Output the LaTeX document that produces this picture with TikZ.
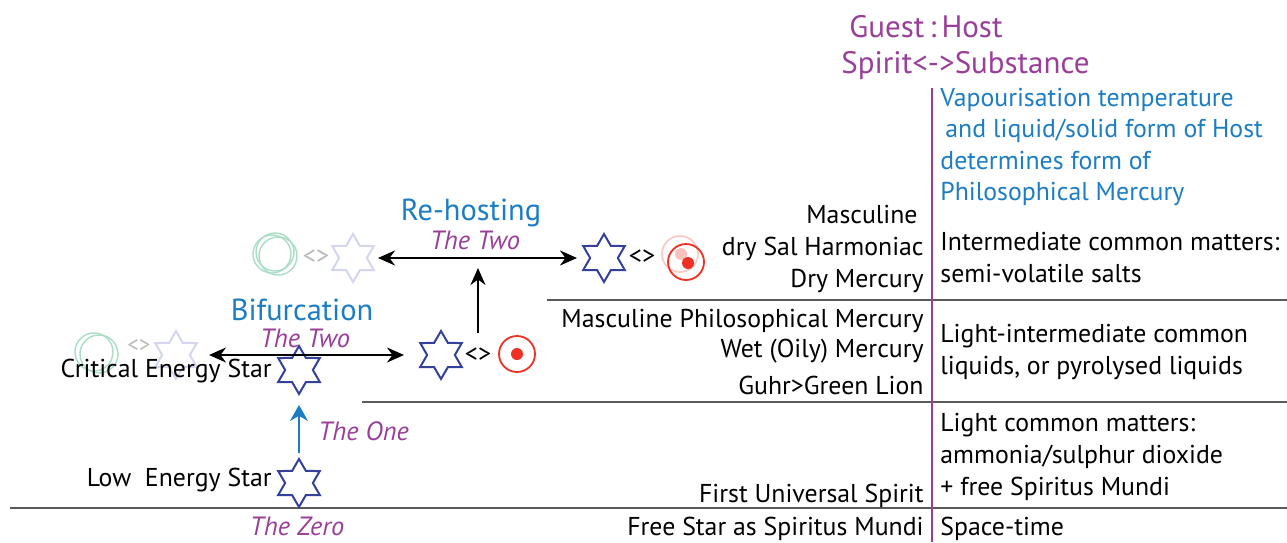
\documentclass[tikz,border=0pt]{standalone}
\usepackage{fontspec}
\setmainfont{PT Sans}
\usetikzlibrary{arrows.meta,positioning,shapes.geometric}
\definecolor{hostpurple}{HTML}{9A3F98}
\definecolor{hostblue}{HTML}{1C7DC4}
\definecolor{starblue}{HTML}{34419B}
\definecolor{hostred}{HTML}{EE3124}
\definecolor{ghostgreen}{HTML}{A9DEC4}
\definecolor{ghoststar}{HTML}{D3D6EE}
\definecolor{rulegray}{HTML}{5A5A5A}

\begin{document}
\begin{tikzpicture}[x=0.5pt,y=-0.5pt,
  txt/.style={font=\fontsize{12.9}{14}\selectfont,inner sep=0pt},
  lab/.style={txt,anchor=base east},
  note/.style={txt,anchor=base west},
  head/.style={inner sep=0pt,anchor=base,font=\fontsize{15.2}{16}\selectfont,hostblue},
  stage/.style={inner sep=0pt,anchor=base,font=\fontsize{13.2}{14}\selectfont\itshape,hostpurple},
  title/.style={inner sep=0pt,anchor=base west,font=\fontsize{15.5}{16}\selectfont,hostpurple},
  hexstar/.style={draw=starblue,line width=1pt,shape=star,star points=6,star point ratio=1.73,minimum size=24pt,inner sep=0pt},
  ghost/.style={hexstar,draw=ghoststar},
  ghostring/.style={draw=ghostgreen,line width=0.7pt,circle,minimum size=19pt,inner sep=0pt},
  swap/.style={inner sep=0pt,font=\fontsize{13}{14}\selectfont},
  target/.style={draw=hostred,line width=0.9pt,circle,minimum size=18pt,inner sep=0pt},
  dot/.style={fill=hostred,circle,minimum size=6pt,inner sep=0pt},
  rule/.style={rulegray,line width=0.8pt},
  twoarrow/.style={line width=1.1pt,{Stealth[length=8.5pt,width=7.5pt]}-{Stealth[length=8.5pt,width=7.5pt]}},
  uparrow/.style={line width=1.1pt,-{Stealth[length=8.5pt,width=7.5pt]}},
  onearrow/.style={hostblue,line width=1.1pt,-{Stealth[length=8pt,width=9pt]}}]

  \useasboundingbox (0,0) rectangle (1287,542);

  \draw[rule] (547,300) -- (1287,300);
  \draw[rule] (362,402) -- (1287,402);
  \draw[rule] (10,508) -- (1287,508);
  \draw[hostpurple,line width=0.8pt] (932,88) -- (932,542);

  \node[title] (guest) at (849,37) {Guest\,:\,Host};
  \node[title] (spirit) at (841,73) {Spirit<->Substance};

  \node[note,hostblue] (vap1) at (940,106) {Vapourisation temperature};
  \node[note,hostblue] (vap2) at (945,137) {and liquid/solid form of Host};
  \node[note,hostblue] (vap3) at (940,169) {determines form of};
  \node[note,hostblue] (vap4) at (940,200) {Philosophical Mercury};
  \node[note] (inter1) at (940,250) {Intermediate common matters:};
  \node[note] (inter2) at (940,282) {semi-volatile salts};
  \node[note] (light1) at (940,342) {Light-intermediate common};
  \node[note] (light2) at (940,374) {liquids, or pyrolysed liquids};
  \node[note] (common1) at (940,431) {Light common matters:};
  \node[note] (common2) at (940,463) {ammonia/sulphur dioxide};
  \node[note] (common3) at (940,495) {+ free Spiritus Mundi};
  \node[note] (space) at (940,535) {Space-time};

  \node[lab] (masc) at (918,223) {Masculine};
  \node[lab] (salh) at (924,255) {dry Sal Harmoniac};
  \node[lab] (drym) at (924,287) {Dry Mercury};
  \node[lab] (mphm) at (924,327) {Masculine Philosophical Mercury};
  \node[lab] (wetm) at (924,357) {Wet (Oily) Mercury};
  \node[lab] (guhr) at (924,394) {Guhr>Green Lion};
  \node[lab] (first) at (924,502) {First Universal Spirit};
  \node[lab] (free) at (924,535) {Free Star as Spiritus Mundi};

  \node[ghostring] (ring1) at (272,254) {};
  \node[ghostring] (ring1b) at (278,256) {};
  \node[ghostring] (ring1c) at (275,252) {};
  \node[swap,gray!55] (ghostswap1) at (316,257) {<>};
  \node[ghost] (ghoststar1) at (353,258) {};

  \node[ghostring] (ring2) at (94,352) {};
  \node[ghostring] (ring2b) at (99,354) {};
  \node[swap,gray!55,font=\fontsize{11.5}{12}\selectfont] (ghostswap2) at (139,346) {<>};
  \node[ghost] (ghoststar2) at (176,355) {};

  \node[lab] (crit) at (272,377) {Critical Energy Star};
  \node[lab] (low) at (272,486) {Low\ \ Energy Star};

  \node[hexstar] (lowstar) at (299,483) {};
  \node[hexstar] (critstar) at (299,370) {};
  \node[hexstar] (midstar) at (441,355) {};
  \node[swap] (midswap) at (478,355) {<>};
  \node[target] (midhost) at (517,354) {};
  \node[dot] (middot) at (517,354) {};

  \node[hexstar] (topstar) at (604,258) {};
  \node[swap] (topswap) at (642,257) {<>};
  \node[target,draw=hostred!25] (ghosthost) at (680,254) {};
  \node[dot,fill=hostred!30] (ghostdot) at (681,254) {};
  \node[target] (tophost) at (686,262) {};
  \node[dot] (topdot) at (688,263) {};

  \coordinate (fork) at (478,257);

  \draw[onearrow,shorten <=2pt,shorten >=4.5pt] (lowstar) -- (critstar);
  \draw[twoarrow,shorten <=9pt,shorten >=11pt] (ghoststar2) -- (midstar);
  \draw[twoarrow,shorten <=5pt,shorten >=6pt] (ghoststar1) -- (topstar);
  \draw[uparrow,shorten <=7pt,shorten >=5.5pt] (midswap.north) -- (fork);

  \node[head] (rehost) at (471,220) {Re-hosting};
  \node[stage] (two1) at (475,249) {The Two};
  \node[head] (bifurc) at (302,320) {Bifurcation};
  \node[stage] (two2) at (305,347) {The Two};
  \node[stage,anchor=base west] (one) at (318,440) {The One};
  \node[stage] (zero) at (297,535) {The Zero};
\end{tikzpicture}
\end{document}
